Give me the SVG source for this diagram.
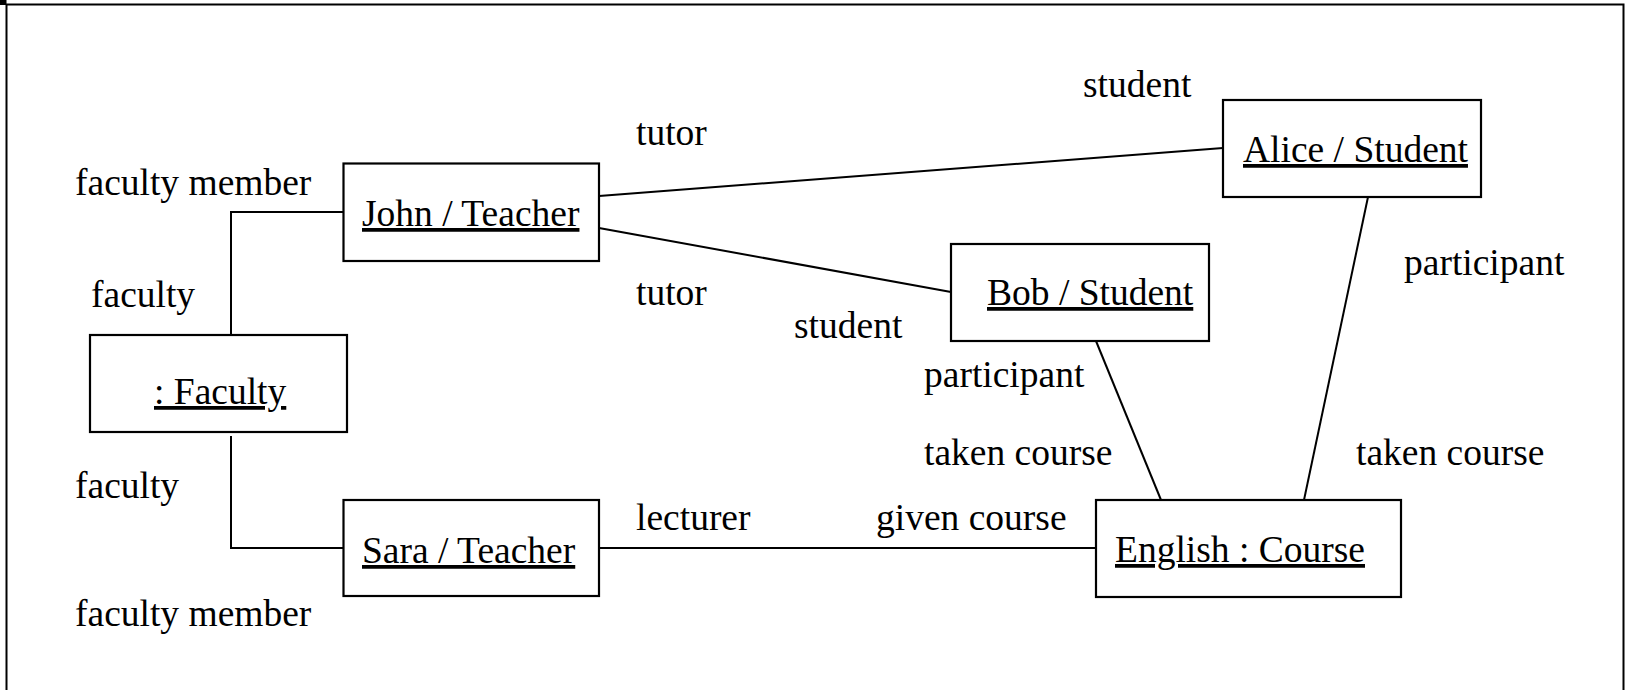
<svg xmlns="http://www.w3.org/2000/svg" width="1627" height="690" viewBox="0 0 1627 690">
<style>
.box{fill:#fff;stroke:#000;stroke-width:2.2}
.con{fill:none;stroke:#000;stroke-width:2}
.frame{fill:none;stroke:#000;stroke-width:2}
text{font-family:"Liberation Serif","Times New Roman",serif;font-size:37.5px;fill:#000}
.name{text-decoration:underline}
</style>
<rect x="0" y="0" width="6.5" height="5" fill="#000"/>
<path class="frame" d="M6.5 690 V4.5 H1623.5 V690"/>
<g id="connectors">
<path class="con" d="M343.5 212 H231 V339"/>
<path class="con" d="M231 436 V548 H343.5"/>
<line class="con" x1="599" y1="196" x2="1223" y2="148"/>
<line class="con" x1="599" y1="228" x2="951" y2="292"/>
<line class="con" x1="599" y1="548" x2="1096" y2="548"/>
<line class="con" x1="1096" y1="341" x2="1161" y2="500"/>
<line class="con" x1="1368" y1="197" x2="1304" y2="500"/>
</g>
<g id="labels">
<text x="75" y="195">faculty member</text>
<text x="91" y="307">faculty</text>
<text x="75" y="498">faculty</text>
<text x="75" y="626">faculty member</text>
<text x="636" y="145">tutor</text>
<text x="636" y="305">tutor</text>
<text x="1083" y="97">student</text>
<text x="794" y="338">student</text>
<text x="1404" y="275">participant</text>
<text x="924" y="387">participant</text>
<text x="924" y="465">taken course</text>
<text x="1356" y="465">taken course</text>
<text x="636" y="530">lecturer</text>
<text x="876" y="530">given course</text>
</g>
<g id="john">
<rect class="box" x="343.5" y="163.5" width="255.5" height="97.5"/>
<text class="name" x="362" y="226">John / Teacher</text>
</g>
<g id="faculty">
<rect class="box" x="90" y="335" width="257" height="97"/>
<text class="name" x="154" y="404">: Faculty</text>
</g>
<g id="sara">
<rect class="box" x="343.5" y="500" width="255.5" height="96"/>
<text class="name" x="362" y="563">Sara / Teacher</text>
</g>
<g id="alice">
<rect class="box" x="1223" y="100" width="258" height="97"/>
<text class="name" x="1243" y="162">Alice / Student</text>
</g>
<g id="bob">
<rect class="box" x="951" y="244" width="258" height="97"/>
<text class="name" x="987" y="305">Bob / Student</text>
</g>
<g id="english">
<rect class="box" x="1096" y="500" width="305" height="97"/>
<text class="name" x="1115" y="562">English : Course</text>
</g>
</svg>
